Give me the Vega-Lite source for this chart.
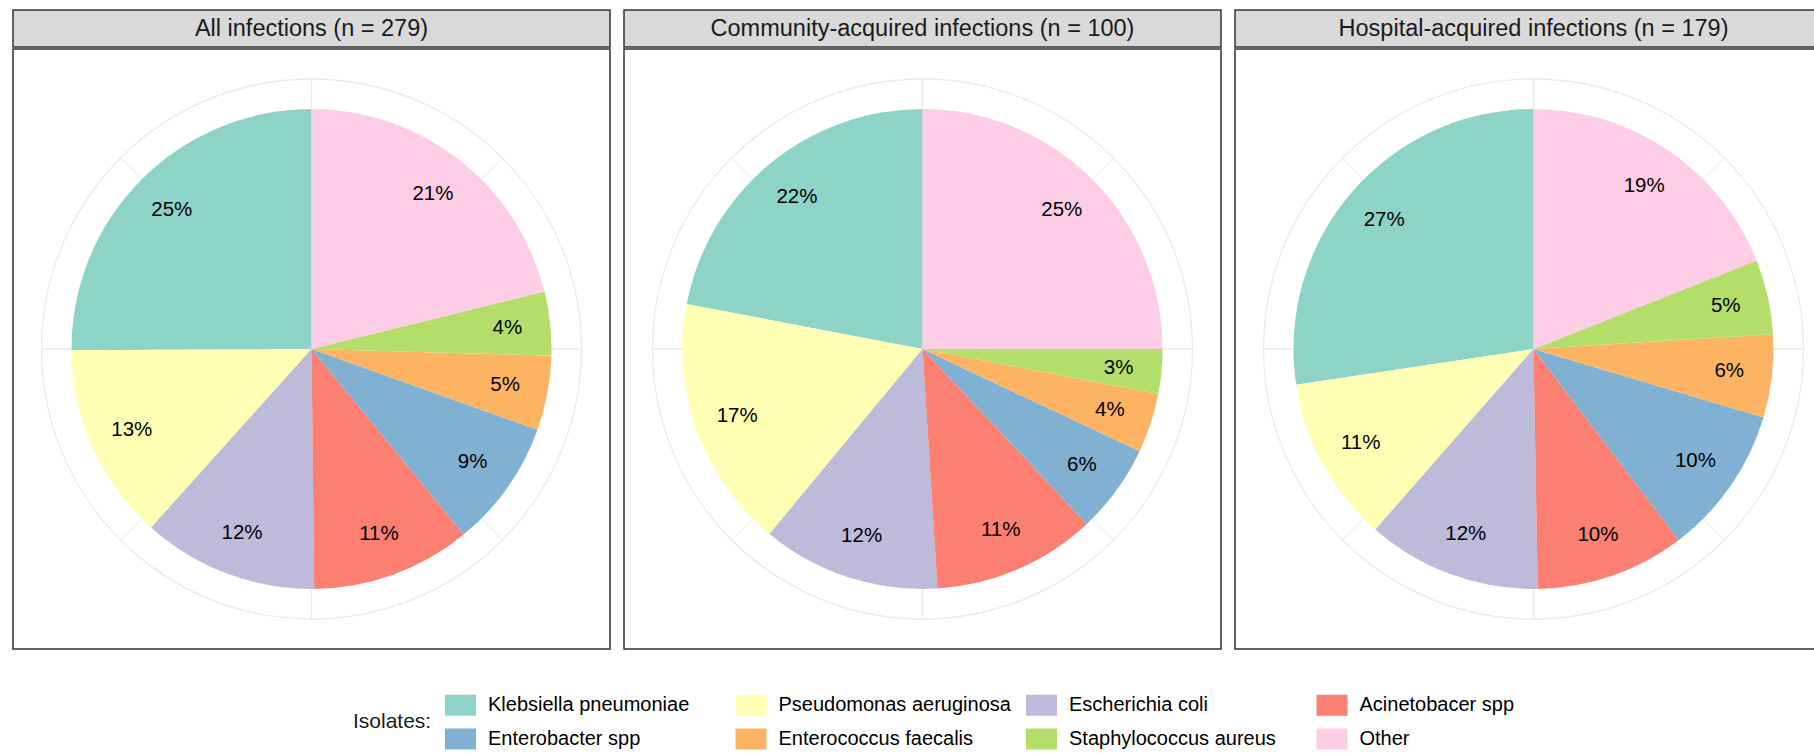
{
  "$schema": "https://vega.github.io/schema/vega-lite/v6.json",
  "padding": {"left": 12, "top": 9, "right": 0, "bottom": 0},
  "autosize": {"type": "pad"},
  "background": "white",
  "config": {
    "font": "Liberation Sans",
    "view": {"stroke": "#333333", "strokeWidth": 1.5},
    "text": {"font": "Liberation Sans"}
  },
  "datasets": {
    "iso": [
      {"g": "All", "isolate": "Klebsiella pneumoniae", "n": 70},
      {"g": "All", "isolate": "Pseudomonas aeruginosa", "n": 37},
      {"g": "All", "isolate": "Escherichia coli", "n": 33},
      {"g": "All", "isolate": "Acinetobacer spp", "n": 30},
      {"g": "All", "isolate": "Enterobacter spp", "n": 24},
      {"g": "All", "isolate": "Enterococcus faecalis", "n": 14},
      {"g": "All", "isolate": "Staphylococcus aureus", "n": 12},
      {"g": "All", "isolate": "Other", "n": 59},
      {"g": "CA", "isolate": "Klebsiella pneumoniae", "n": 22},
      {"g": "CA", "isolate": "Pseudomonas aeruginosa", "n": 17},
      {"g": "CA", "isolate": "Escherichia coli", "n": 12},
      {"g": "CA", "isolate": "Acinetobacer spp", "n": 11},
      {"g": "CA", "isolate": "Enterobacter spp", "n": 6},
      {"g": "CA", "isolate": "Enterococcus faecalis", "n": 4},
      {"g": "CA", "isolate": "Staphylococcus aureus", "n": 3},
      {"g": "CA", "isolate": "Other", "n": 25},
      {"g": "HA", "isolate": "Klebsiella pneumoniae", "n": 49},
      {"g": "HA", "isolate": "Pseudomonas aeruginosa", "n": 20},
      {"g": "HA", "isolate": "Escherichia coli", "n": 21},
      {"g": "HA", "isolate": "Acinetobacer spp", "n": 18},
      {"g": "HA", "isolate": "Enterobacter spp", "n": 18},
      {"g": "HA", "isolate": "Enterococcus faecalis", "n": 10},
      {"g": "HA", "isolate": "Staphylococcus aureus", "n": 9},
      {"g": "HA", "isolate": "Other", "n": 34}
    ],
    "grid": [
      {"a": 0, "kind": "major"},
      {"a": 0.25, "kind": "major"},
      {"a": 0.5, "kind": "major"},
      {"a": 0.75, "kind": "major"},
      {"a": 0.125, "kind": "minor"},
      {"a": 0.375, "kind": "minor"},
      {"a": 0.625, "kind": "minor"},
      {"a": 0.875, "kind": "minor"}
    ],
    "ring": [{"a": 0, "b": 1}],
    "strips": [
      {"g": "All", "title": "All infections (n = 279)"},
      {"g": "CA", "title": "Community-acquired infections (n = 100)"},
      {"g": "HA", "title": "Hospital-acquired infections (n = 179)"}
    ]
  },
  "spacing": 12,
  "hconcat": [
    {
      "spacing": 0,
      "vconcat": [
        {
          "width": 597, "height": 37,
          "view": {"fill": "#D9D9D9", "stroke": "#333333", "strokeWidth": 1.5},
          "data": {"name": "strips"},
          "transform": [{"filter": "datum.g == 'All'"}],
          "mark": {"type": "text", "fontSize": 23.5, "color": "#1A1A1A", "baseline": "middle"},
          "encoding": {"text": {"field": "title"}}
        },
        {
          "width": 597, "height": 600,
          "view": {"fill": "white", "stroke": "#333333", "strokeWidth": 1.5},
          "layer": [
            {
              "data": {"name": "ring"},
              "mark": {"type": "arc", "radius": 270, "filled": false, "stroke": "#EBEBEB", "strokeWidth": 1.3},
              "encoding": {
                "theta": {"field": "a", "type": "quantitative", "scale": {"domain": [0, 1], "range": [0, 6.283185307179586]}},
                "theta2": {"field": "b"}
              }
            },
            {
              "data": {"name": "grid"},
              "mark": {"type": "arc", "radius": 270, "filled": false, "stroke": "#EBEBEB"},
              "encoding": {
                "theta": {"field": "a", "type": "quantitative"},
                "theta2": {"field": "a"},
                "strokeWidth": {"field": "kind", "type": "nominal", "scale": {"domain": ["major", "minor"], "range": [1.3, 0.7]}, "legend": null}
              }
            },
            {
              "data": {"name": "iso"},
              "transform": [
                {"filter": "datum.g == 'All'"},
                {"calculate": "indexof(['Klebsiella pneumoniae','Pseudomonas aeruginosa','Escherichia coli','Acinetobacer spp','Enterobacter spp','Enterococcus faecalis','Staphylococcus aureus','Other'], datum.isolate)", "as": "idx"}
              ],
              "mark": {"type": "arc", "radius": 240},
              "encoding": {
                "theta": {"field": "n", "type": "quantitative", "stack": "normalize"},
                "order": {"field": "idx", "sort": "descending"},
                "color": {
                  "field": "isolate", "type": "nominal",
                  "scale": {
                    "domain": ["Klebsiella pneumoniae", "Pseudomonas aeruginosa", "Escherichia coli", "Acinetobacer spp", "Enterobacter spp", "Enterococcus faecalis", "Staphylococcus aureus", "Other"],
                    "range": ["#8DD3C7", "#FFFFB3", "#BEBADA", "#FB8072", "#80B1D3", "#FDB462", "#B3DE69", "#FCCDE5"]
                  },
                  "legend": {
                    "title": "Isolates:", "orient": "none", "legendX": 340, "legendY": 685,
                    "columns": 4, "direction": "horizontal", "titleOrient": "left",
                    "titleFontSize": 21, "titleFontWeight": "normal", "titleColor": "#1A1A1A",
                    "titleBaseline": "middle", "titleAnchor": "middle", "titlePadding": 18.5,
                    "labelFontSize": 20, "labelColor": "#000000", "labelOffset": 17.5, "labelLimit": 400,
                    "symbolType": "M-1.55,-1.05L1.55,-1.05L1.55,1.05L-1.55,1.05Z", "symbolSize": 400,
                    "symbolStrokeWidth": 0, "symbolOpacity": 1,
                    "columnPadding": 14.5, "rowPadding": 12, "gridAlign": "all"
                  }
                }
              }
            },
            {
              "data": {"name": "iso"},
              "transform": [
                {"filter": "datum.g == 'All'"},
                {"calculate": "indexof(['Klebsiella pneumoniae','Pseudomonas aeruginosa','Escherichia coli','Acinetobacer spp','Enterobacter spp','Enterococcus faecalis','Staphylococcus aureus','Other'], datum.isolate)", "as": "idx"},
                {"joinaggregate": [{"op": "sum", "field": "n", "as": "tot"}]},
                {"calculate": "format(datum.n / datum.tot, '.0%')", "as": "label"}
              ],
              "mark": {"type": "text", "radius": 197, "fontSize": 20.5, "color": "#000000"},
              "encoding": {
                "theta": {"field": "n", "type": "quantitative", "stack": "normalize"},
                "order": {"field": "idx", "sort": "descending"},
                "text": {"field": "label"}
              }
            }
          ]
        }
      ]
    },
    {
      "spacing": 0,
      "vconcat": [
        {
          "width": 597, "height": 37,
          "view": {"fill": "#D9D9D9", "stroke": "#333333", "strokeWidth": 1.5},
          "data": {"name": "strips"},
          "transform": [{"filter": "datum.g == 'CA'"}],
          "mark": {"type": "text", "fontSize": 23.5, "color": "#1A1A1A", "baseline": "middle"},
          "encoding": {"text": {"field": "title"}}
        },
        {
          "width": 597, "height": 600,
          "view": {"fill": "white", "stroke": "#333333", "strokeWidth": 1.5},
          "layer": [
            {
              "data": {"name": "ring"},
              "mark": {"type": "arc", "radius": 270, "filled": false, "stroke": "#EBEBEB", "strokeWidth": 1.3},
              "encoding": {
                "theta": {"field": "a", "type": "quantitative", "scale": {"domain": [0, 1], "range": [0, 6.283185307179586]}},
                "theta2": {"field": "b"}
              }
            },
            {
              "data": {"name": "grid"},
              "mark": {"type": "arc", "radius": 270, "filled": false, "stroke": "#EBEBEB"},
              "encoding": {
                "theta": {"field": "a", "type": "quantitative"},
                "theta2": {"field": "a"},
                "strokeWidth": {"field": "kind", "type": "nominal", "scale": {"domain": ["major", "minor"], "range": [1.3, 0.7]}, "legend": null}
              }
            },
            {
              "data": {"name": "iso"},
              "transform": [
                {"filter": "datum.g == 'CA'"},
                {"calculate": "indexof(['Klebsiella pneumoniae','Pseudomonas aeruginosa','Escherichia coli','Acinetobacer spp','Enterobacter spp','Enterococcus faecalis','Staphylococcus aureus','Other'], datum.isolate)", "as": "idx"}
              ],
              "mark": {"type": "arc", "radius": 240},
              "encoding": {
                "theta": {"field": "n", "type": "quantitative", "stack": "normalize"},
                "order": {"field": "idx", "sort": "descending"},
                "color": {"field": "isolate", "type": "nominal"}
              }
            },
            {
              "data": {"name": "iso"},
              "transform": [
                {"filter": "datum.g == 'CA'"},
                {"calculate": "indexof(['Klebsiella pneumoniae','Pseudomonas aeruginosa','Escherichia coli','Acinetobacer spp','Enterobacter spp','Enterococcus faecalis','Staphylococcus aureus','Other'], datum.isolate)", "as": "idx"},
                {"joinaggregate": [{"op": "sum", "field": "n", "as": "tot"}]},
                {"calculate": "format(datum.n / datum.tot, '.0%')", "as": "label"}
              ],
              "mark": {"type": "text", "radius": 197, "fontSize": 20.5, "color": "#000000"},
              "encoding": {
                "theta": {"field": "n", "type": "quantitative", "stack": "normalize"},
                "order": {"field": "idx", "sort": "descending"},
                "text": {"field": "label"}
              }
            }
          ]
        }
      ]
    },
    {
      "spacing": 0,
      "vconcat": [
        {
          "width": 597, "height": 37,
          "view": {"fill": "#D9D9D9", "stroke": "#333333", "strokeWidth": 1.5},
          "data": {"name": "strips"},
          "transform": [{"filter": "datum.g == 'HA'"}],
          "mark": {"type": "text", "fontSize": 23.5, "color": "#1A1A1A", "baseline": "middle"},
          "encoding": {"text": {"field": "title"}}
        },
        {
          "width": 597, "height": 600,
          "view": {"fill": "white", "stroke": "#333333", "strokeWidth": 1.5},
          "layer": [
            {
              "data": {"name": "ring"},
              "mark": {"type": "arc", "radius": 270, "filled": false, "stroke": "#EBEBEB", "strokeWidth": 1.3},
              "encoding": {
                "theta": {"field": "a", "type": "quantitative", "scale": {"domain": [0, 1], "range": [0, 6.283185307179586]}},
                "theta2": {"field": "b"}
              }
            },
            {
              "data": {"name": "grid"},
              "mark": {"type": "arc", "radius": 270, "filled": false, "stroke": "#EBEBEB"},
              "encoding": {
                "theta": {"field": "a", "type": "quantitative"},
                "theta2": {"field": "a"},
                "strokeWidth": {"field": "kind", "type": "nominal", "scale": {"domain": ["major", "minor"], "range": [1.3, 0.7]}, "legend": null}
              }
            },
            {
              "data": {"name": "iso"},
              "transform": [
                {"filter": "datum.g == 'HA'"},
                {"calculate": "indexof(['Klebsiella pneumoniae','Pseudomonas aeruginosa','Escherichia coli','Acinetobacer spp','Enterobacter spp','Enterococcus faecalis','Staphylococcus aureus','Other'], datum.isolate)", "as": "idx"}
              ],
              "mark": {"type": "arc", "radius": 240},
              "encoding": {
                "theta": {"field": "n", "type": "quantitative", "stack": "normalize"},
                "order": {"field": "idx", "sort": "descending"},
                "color": {"field": "isolate", "type": "nominal"}
              }
            },
            {
              "data": {"name": "iso"},
              "transform": [
                {"filter": "datum.g == 'HA'"},
                {"calculate": "indexof(['Klebsiella pneumoniae','Pseudomonas aeruginosa','Escherichia coli','Acinetobacer spp','Enterobacter spp','Enterococcus faecalis','Staphylococcus aureus','Other'], datum.isolate)", "as": "idx"},
                {"joinaggregate": [{"op": "sum", "field": "n", "as": "tot"}]},
                {"calculate": "format(datum.n / datum.tot, '.0%')", "as": "label"}
              ],
              "mark": {"type": "text", "radius": 197, "fontSize": 20.5, "color": "#000000"},
              "encoding": {
                "theta": {"field": "n", "type": "quantitative", "stack": "normalize"},
                "order": {"field": "idx", "sort": "descending"},
                "text": {"field": "label"}
              }
            }
          ]
        }
      ]
    }
  ]
}
